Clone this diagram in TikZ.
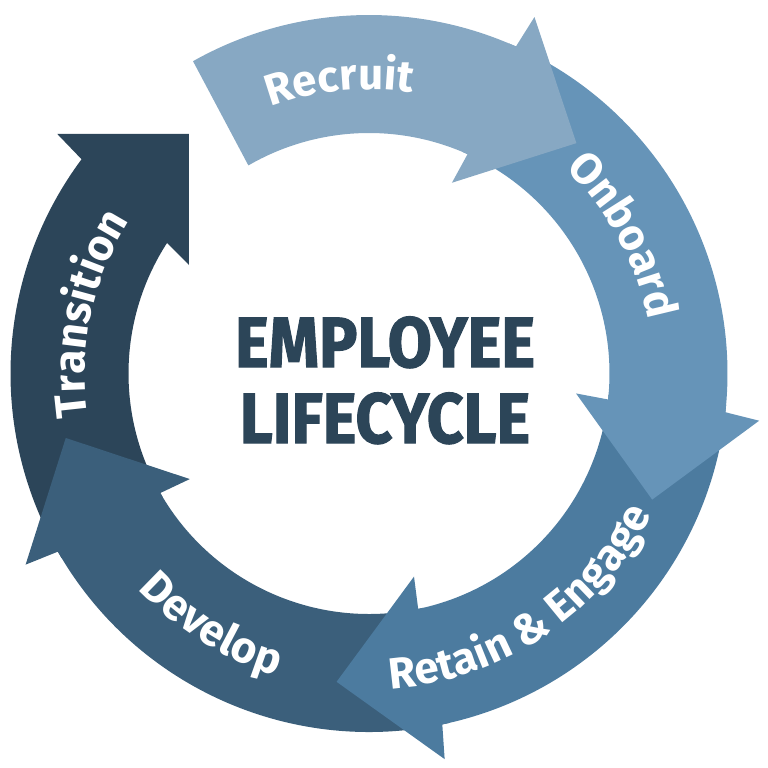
\documentclass[tikz,border=0pt]{standalone}
\usepackage{fontspec}
\setmainfont{Fira Sans}
\newfontfamily\titlefont{Fira Sans}[FakeStretch=0.9, FakeBold=1.6]
\newcommand{\labelfont}{\fontsize{25}{30}\selectfont\bfseries}
\usetikzlibrary{decorations.text}
\definecolor{recruitcol}{HTML}{87A8C3}
\definecolor{onboardcol}{HTML}{6694B8}
\definecolor{retaincol}{HTML}{4C7B9F}
\definecolor{developcol}{HTML}{3B5F7B}
\definecolor{transitcol}{HTML}{2C4559}
\definecolor{headcol}{HTML}{2C4558}
\begin{document}
\begin{tikzpicture}[x=0.02cm, y=0.02cm]
    % Styles
    \tikzstyle{stagetext} = [decorate, decoration={text along path, text align=center, text color=white}]
    \tikzstyle{headline} = [font=\titlefont\fontsize{40.5}{48}\selectfont\bfseries, text=headcol, anchor=base, inner sep=0pt]

    \useasboundingbox (-369,-394.5) rectangle (399,373.5);

    % Transition
    \fill[transitcol] (211:358.5) arc[start angle=211, end angle=143.3, radius=358.5]
        -- (-311.7,239.5) -- (-180,239.5) -- (-180,108.5) -- (147.1:240.5)
        arc[start angle=147.1, end angle=211, radius=240.5] -- cycle;
    \path[stagetext, decoration={text={|\labelfont|Transition}}]
        (208:284) arc[start angle=208, end angle=128, radius=284];

    % Develop
    \fill[developcol] (283:358.5) arc[start angle=283, end angle=209.8, radius=358.5]
        -- (209.1:393) -- (192:310) -- (210.5:208) -- (209.8:240.5)
        arc[start angle=209.8, end angle=283, radius=240.5] -- cycle;
    \path[stagetext, decoration={text={|\labelfont|Develop}}]
        (198:316) arc[start angle=198, end angle=278, radius=316];

    % Retain & Engage
    \fill[retaincol] (-5:358.5) arc[start angle=-5, end angle=-78.2, radius=358.5]
        -- (-78.9:393) -- (-96:310) -- (-77.5:208) -- (-78.2:240.5)
        arc[start angle=-78.2, end angle=-5, radius=240.5] -- cycle;
    \path[stagetext, decoration={text={|\labelfont|Retain {\&} Engage}}]
        (-111.2:316) arc[start angle=-111.2, end angle=-1.2, radius=316];

    % Onboard
    \fill[onboardcol] (67:358.5) arc[start angle=67, end angle=-6.2, radius=358.5]
        -- (-6.9:393) -- (-24:310) -- (-5.5:208) -- (-6.2:240.5)
        arc[start angle=-6.2, end angle=67, radius=240.5] -- cycle;
    \path[stagetext, decoration={text={|\labelfont|Onboard}}]
        (68.5:284) arc[start angle=68.5, end angle=-11.5, radius=284];

    % Recruit
    \fill[recruitcol] (119.4:358.5) arc[start angle=119.4, end angle=65.8, radius=358.5]
        -- (65.1:393) -- (48:310) -- (66.5:208) -- (65.8:240.5)
        arc[start angle=65.8, end angle=120.1, radius=240.5] -- cycle;
    \path[stagetext, decoration={text={|\labelfont|Recruit}}]
        (135.8:284) arc[start angle=135.8, end angle=55.8, radius=284];

    % Title
    \node (employee) [headline] at (16,6.5) {EMPLOYEE};
    \node (lifecycle) [headline] at (16,-69.5) {LIFECYCLE};
\end{tikzpicture}
\end{document}
